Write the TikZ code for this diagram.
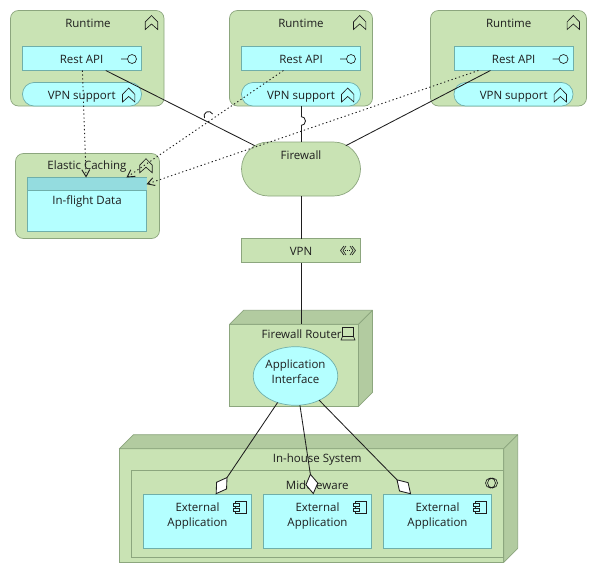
\documentclass[tikz,border=0pt]{standalone}
\usepackage{fontspec}
\setmainfont{Open Sans}
\usetikzlibrary{arrows.meta,calc,shapes.geometric}
\definecolor{grn}{HTML}{C9E3B4}
\definecolor{grnd}{HTML}{B2CBA0}
\definecolor{grnb}{HTML}{8CA67E}
\definecolor{cyn}{HTML}{B4FFFF}
\definecolor{cynd}{HTML}{94DCDF}
\definecolor{cynb}{HTML}{6FAFAA}
\definecolor{ink}{HTML}{1E1E1E}
\tikzset{
  base/.style={inner sep=0pt,outer sep=0pt,line width=0.7pt,rectangle},
  cont/.style={base,draw=grnb,fill=grn,rounded corners=8pt},
  grnbox/.style={base,draw=grnb,fill=grn},
  cynbox/.style={base,draw=cynb,fill=cyn},
  svc/.style={cynbox,rounded corners=11.5pt},
  lbl/.style={inner sep=0pt,outer sep=0pt,yshift=-1pt,font=\fontsize{11.5}{15}\selectfont,text=ink,align=center},
  conn/.style={draw=ink,line width=0.85pt},
  dep/.style={draw=ink,line width=0.9pt,dash pattern=on 1.3pt off 2.6pt,-{Straight Barb[length=7pt,width=8pt,open]}},
  dia/.style={conn,-{Diamond[length=21pt,width=13pt,fill=white,line width=0.85pt]}},
  icon/.style={draw=ink,line width=0.65pt,line join=miter},
  pics/chev/.style={code={\draw[icon,fill=none] (-6.2,7) -- (-6.2,-0.6) -- (0,-7) -- (6.2,-0.6) -- (6.2,7) -- (0,1.5) -- cycle;}},
  pics/iface/.style={code={\draw[icon] (-11,0) -- (-4.5,0) (0,0) circle (4.5pt);}}
}
\begin{document}
\begin{tikzpicture}[x=1pt,y=-1pt]
\useasboundingbox (0,0) rectangle (597,573);
\fill[white] (0,0) rectangle (597,573);
% runtime containers
\node[cont,minimum width=153.5pt,minimum height=95.5pt] (rt1) at (87.25,58.25) {};
\node[cont,minimum width=143pt,minimum height=95.5pt] (rt2) at (301,58.25) {};
\node[cont,minimum width=156pt,minimum height=95.5pt] (rt3) at (508.5,58.25) {};
\node[lbl] (rt1t) at (88,22) {Runtime};
\node[lbl] (rt2t) at (301,22) {Runtime};
\node[lbl] (rt3t) at (508.7,22) {Runtime};
\pic at (151.5,22.5) {chev};
\pic at (359.7,22.5) {chev};
\pic at (573.3,22.5) {chev};
\node[cynbox,minimum width=119pt,minimum height=24pt] (ra1) at (82,58.5) {};
\node[cynbox,minimum width=119pt,minimum height=24pt] (ra2) at (301,58.5) {};
\node[cynbox,minimum width=119pt,minimum height=24pt] (ra3) at (513.5,58.5) {};
\node[lbl] (ra1t) at (81.5,58.5) {Rest API};
\node[lbl] (ra2t) at (301,58.5) {Rest API};
\node[lbl] (ra3t) at (513.7,58.5) {Rest API};
\pic at (132,59) {iface};
\pic at (351,59) {iface};
\pic at (563.5,59) {iface};
\node[svc,minimum width=119pt,minimum height=23.5pt] (vs1) at (82,94.25) {};
\node[svc,minimum width=119pt,minimum height=23.5pt] (vs2) at (301,94.25) {};
\node[svc,minimum width=119pt,minimum height=23.5pt] (vs3) at (513.5,94.25) {};
\node[lbl] (vs1t) at (81.7,96) {VPN support};
\node[lbl] (vs2t) at (301,96) {VPN support};
\node[lbl] (vs3t) at (513.7,96) {VPN support};
\pic at (128.7,95) {chev};
\pic at (347.7,95) {chev};
\pic at (560.3,95) {chev};
% elastic caching
\node[cont,minimum width=144pt,minimum height=85pt] (ec) at (87.5,196) {};
\node[lbl] (ect) at (87,166) {Elastic Caching};
\pic at (146,165.7) {chev};
\node[cynbox,minimum width=119pt,minimum height=54pt] (fl) at (87,204.5) {};
\fill[cynd] (fl.north west) rectangle ($(fl.north east)+(0,13)$);
\draw[draw=cynb,line width=0.7pt] (fl.north west) -- (fl.north east) ($(fl.north west)+(0,13)$) -- ($(fl.north east)+(0,13)$);
\node[lbl] (flt) at (87,200) {In-flight Data};
% firewall, vpn
\node[grnbox,rounded corners=27pt,minimum width=119pt,minimum height=54pt] (fw) at (301,169) {};
\node[lbl] (fwt) at (301,154) {Firewall};
\node[grnbox,minimum width=119pt,minimum height=24pt] (vpn) at (301,250.5) {};
\node[lbl] (vpnt) at (301,250.5) {VPN};
\draw[icon] (340.5,250.5) -- (344,246) (340.5,250.5) -- (344,255) (343,250.5) -- (346,246) (343,250.5) -- (346,255)
 (355.5,250.5) -- (352,246) (355.5,250.5) -- (352,255) (353,250.5) -- (350,246) (353,250.5) -- (350,255);
\draw[icon,dash pattern=on 1pt off 1pt] (345,250.5) -- (351,250.5);
% firewall router
\node[grnbox,minimum width=129pt,minimum height=82pt] (fr) at (294,365.3) {};
\fill[grnd,draw=grnb,line width=0.7pt,line join=round] (fr.north west) -- ++(14,-14) -- ++(129,0) -- ++(-14,14) -- cycle;
\fill[grnd,draw=grnb,line width=0.7pt,line join=round] (fr.north east) -- ++(14,-14) -- ++(0,82) -- ++(-14,14) -- cycle;
\node[lbl] (frt) at (301.7,333) {Firewall Router};
\draw[icon] (342.5,327.5) -- (342.5,336.5) -- (353.5,336.5) -- (353.5,327.5) -- cycle (342.5,336.5) -- (341,340) -- (355,340) -- (353.5,336.5);
\node[base,shape=ellipse,draw=cynb,fill=cyn,minimum width=84.5pt,minimum height=58.6pt] (ai) at (295.5,376) {};
\node[lbl] (ait) at (295.5,370.5) {Application\\Interface};
% in-house system
\node[grnbox,minimum width=384.4pt,minimum height=113.6pt] (ih) at (311.5,505.5) {};
\fill[grnd,draw=grnb,line width=0.7pt,line join=round] (ih.north west) -- ++(14,-14) -- ++(384.4,0) -- ++(-14,14) -- cycle;
\fill[grnd,draw=grnb,line width=0.7pt,line join=round] (ih.north east) -- ++(14,-14) -- ++(0,113.6) -- ++(-14,14) -- cycle;
\node[lbl] (iht) at (317.3,459) {In-house System};
\node[grnbox,minimum width=372.2pt,minimum height=86.6pt] (mw) at (317.6,514) {};
\node[lbl] (mwt) at (317.3,484) {Middleware};
\draw[icon] (490.5,483) circle (5pt) (492.5,483) circle (5pt);
\foreach \n/\x in {ea1/197.5,ea2/317.5,ea3/437.5}{
  \node[cynbox,minimum width=108.4pt,minimum height=54pt] (\n) at (\x,521.3) {};
  \node[lbl] (\n t) at (\x,515.5) {External\\Application};
  \draw[icon,fill=cyn] ($(\n)+(38,-20.3)$) rectangle ++(10.5,12);
  \draw[icon,fill=cyn] ($(\n)+(35.8,-17.5)$) rectangle ++(6,2.6);
  \draw[icon,fill=cyn] ($(\n)+(35.8,-12.8)$) rectangle ++(6,2.6);
}
% connectors
\draw[conn,shorten >=-8pt] (ra1) -- (fw);
\draw[conn] (vs2) -- (fw);
\draw[conn,shorten >=-8pt] (ra3) -- (fw);
\draw[conn] (fw) -- (vpn);
\draw[conn] (vpn) -- (fr.north -| vpn);
\draw[dep] (ra1) -- (fl);
\draw[dep] (ra2) -- (fl);
\draw[dep] (ra3) -- (fl);
\draw[dia] (ai) -- (ea1);
\draw[dia] (ai) -- (ea2);
\draw[dia] (ai) -- (ea3);
% line hops
\draw[conn,fill=white] (204.5,118) arc[start angle=206.5,end angle=26.5,radius=4.5pt];
\draw[conn,fill=white] (301,125.5) arc[start angle=-90,end angle=90,radius=4.5pt];
\end{tikzpicture}
\end{document}
